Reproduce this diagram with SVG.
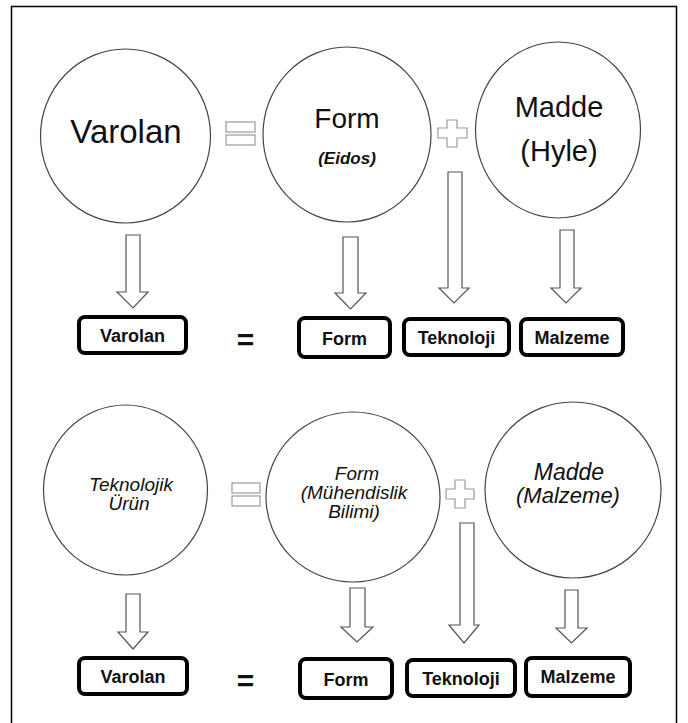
<svg xmlns="http://www.w3.org/2000/svg" width="688" height="723" viewBox="0 0 688 723">
<style>
.c{fill:#fff;stroke:#444;stroke-width:1.2}
.op{fill:#fff;stroke:#999;stroke-width:1.2}
.ar{fill:#fff;stroke:#555;stroke-width:1.2;stroke-linejoin:miter}
.bx{fill:#fff;stroke:#000;stroke-width:4}
.t{font-family:"Liberation Sans",Arial,sans-serif;fill:#111;text-anchor:middle}
.b{font-family:"Liberation Sans",Arial,sans-serif;font-weight:bold;font-size:18px;fill:#111;text-anchor:middle}
.i{font-style:italic}
</style>
<rect x="0" y="0" width="688" height="723" fill="#fff"/>
<rect x="11.5" y="6.5" width="665" height="730" fill="none" stroke="#000" stroke-width="1.5"/>

<g id="connectors">
<polygon class="ar" points="126,235 140,235 140,292 148,292 133,308 117,292 126,292"/>
<polygon class="ar" points="343,237 358,237 358,293 366,293 350.5,309 335,293 343,293"/>
<polygon class="ar" points="448,172 462,172 462,288 469,288 454,303 439,288 448,288"/>
<polygon class="ar" points="560,230 574,230 574,288 581,288 566,303 551,288 560,288"/>
<polygon class="ar" points="126,594 140,594 140,632 148,632 133,649 118,632 126,632"/>
<polygon class="ar" points="350,588 365,588 365,627 373,627 357,642 341,627 350,627"/>
<polygon class="ar" points="460,523 474,523 474,625 479,625 464,643 449,625 460,625"/>
<polygon class="ar" points="565,590 578,590 578,628 587,628 571.5,643 556,628 565,628"/>
</g>

<g id="op-eq-top">
<rect class="op" x="226" y="122" width="29" height="10"/>
<rect class="op" x="226" y="135" width="29" height="10"/>
</g>
<g id="op-plus-top">
<polygon class="op" points="447,120 457,120 457,128 467,128 467,138 457,138 457,147 447,147 447,138 438,138 438,128 447,128"/>
</g>
<g id="op-eq-bottom">
<rect class="op" x="232" y="483" width="28" height="10"/>
<rect class="op" x="232" y="496" width="28" height="10"/>
</g>
<g id="op-plus-bottom">
<polygon class="op" points="455,480 465,480 465,489 474,489 474,499 465,499 465,508 455,508 455,499 446,499 446,489 455,489"/>
</g>

<g id="n-varolan">
<ellipse class="c" cx="125.5" cy="136" rx="85" ry="87"/>
<text class="t" x="126" y="143" font-size="33">Varolan</text>
</g>
<g id="n-form">
<ellipse class="c" cx="347" cy="134.5" rx="84" ry="87.5"/>
<text class="t" x="347" y="128" font-size="28">Form</text>
<text class="t i" x="347" y="164" font-size="17" font-weight="bold">(Eidos)</text>
</g>
<g id="n-madde">
<ellipse class="c" cx="558" cy="130" rx="82.5" ry="88"/>
<text class="t" x="559" y="117" font-size="29">Madde</text>
<text class="t" x="559" y="161" font-size="29">(Hyle)</text>
</g>

<g id="b-varolan-1"><rect class="bx" x="79" y="317" width="107" height="36" rx="6"/><text class="b" x="132.5" y="342">Varolan</text></g>
<text class="t" x="245.5" y="350" font-size="30" font-weight="bold">=</text>
<g id="b-form-1"><rect class="bx" x="299" y="318" width="91" height="39" rx="6"/><text class="b" x="344.5" y="345">Form</text></g>
<g id="b-tek-1"><rect class="bx" x="404" y="319" width="105" height="36" rx="6"/><text class="b" x="456.5" y="344">Teknoloji</text></g>
<g id="b-malz-1"><rect class="bx" x="521" y="319" width="102" height="36" rx="6"/><text class="b" x="572" y="344">Malzeme</text></g>

<g id="n-urun">
<ellipse class="c" cx="125.5" cy="490" rx="82" ry="85"/>
<text class="t i" x="131" y="491" font-size="19">Teknolojik</text>
<text class="t i" x="129" y="510" font-size="19">Ürün</text>
</g>
<g id="n-form2">
<ellipse class="c" cx="353" cy="497" rx="87" ry="85"/>
<text class="t i" x="357" y="480" font-size="19">Form</text>
<text class="t i" x="354" y="499" font-size="19">(Mühendislik</text>
<text class="t i" x="354" y="518" font-size="19">Bilimi)</text>
</g>
<g id="n-madde2">
<ellipse class="c" cx="573" cy="490" rx="88" ry="88"/>
<text class="t i" x="569" y="480" font-size="23">Madde</text>
<text class="t i" x="568" y="503" font-size="22">(Malzeme)</text>
</g>

<g id="b-varolan-2"><rect class="bx" x="79" y="658" width="108" height="36" rx="6"/><text class="b" x="133" y="683">Varolan</text></g>
<text class="t" x="245.5" y="691" font-size="30" font-weight="bold">=</text>
<g id="b-form-2"><rect class="bx" x="300" y="659" width="92" height="39" rx="6"/><text class="b" x="346" y="686">Form</text></g>
<g id="b-tek-2"><rect class="bx" x="407" y="660" width="108" height="36" rx="6"/><text class="b" x="461" y="685">Teknoloji</text></g>
<g id="b-malz-2"><rect class="bx" x="526" y="658" width="104" height="38" rx="6"/><text class="b" x="578" y="683">Malzeme</text></g>
</svg>
